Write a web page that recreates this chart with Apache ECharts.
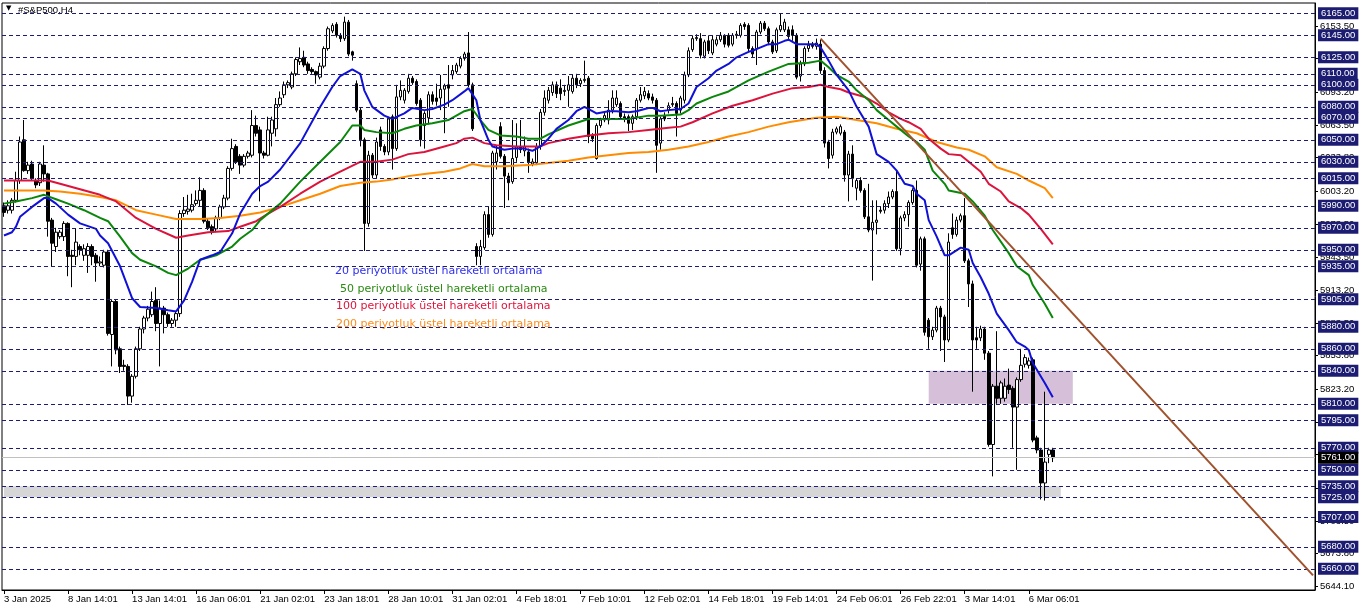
<!DOCTYPE html>
<html>
<head>
<meta charset="utf-8">
<script src="https://cdn.jsdelivr.net/npm/echarts@6/dist/echarts.min.js"></script>
<style>
html,body{margin:0;padding:0;background:#fff;}
#chart{width:1362px;height:611px;}
</style>
</head>
<body>
<div id="chart"></div>
<script>
// ---- data ----
const chartTitle = '#S&P500,H4';
const tickLabels = ['3 Jan 2025','8 Jan 14:01','13 Jan 14:01','16 Jan 06:01','21 Jan 02:01','23 Jan 18:01','28 Jan 10:01','31 Jan 02:01','4 Feb 18:01','7 Feb 10:01','12 Feb 02:01','14 Feb 18:01','19 Feb 14:01','24 Feb 06:01','26 Feb 22:01','3 Mar 14:01','6 Mar 06:01'];
const barsPerLabel = 16;
const slotCount = 328;
// [open, close, low, high]
const ohlc = [
[5990,5984,5980,5993],[5986,5990,5983,5995],[5986,5995,5983,5997],[5995,6013,5993,6021],[6013,6048,6010,6053],
[6050,6022,6021,6068],[6022,6027,6019,6030],[6028,6015,6013,6031],[6013,6009,6006,6015],[6011,6028,6008,6030],
[6027,6019,6012,6045],[6019,5976,5962,6020],[5977,5956,5935,5979],[5953,5966,5948,5970],[5962,5966,5960,5968],
[5962,5974,5958,5976],[5974,5944,5926,5975],[5945,5944,5916,5950],[5944,5957,5936,5969],[5953,5950,5945,5955],
[5945,5951,5940,5955],[5945,5953,5929,5956],[5953,5944,5936,5955],[5945,5938,5921,5947],[5938,5939,5935,5944],
[5936,5948,5934,5950],[5948,5874,5872,5950],[5873,5903,5844,5905],[5903,5859,5855,5905],[5860,5844,5838,5862],
[5845,5844,5840,5850],[5844,5817,5809,5846],[5817,5835,5811,5837],[5835,5860,5833,5862],[5860,5878,5858,5880],
[5878,5888,5874,5890],[5888,5896,5885,5899],[5891,5903,5889,5912],[5904,5883,5876,5916],[5883,5897,5844,5904],
[5897,5891,5874,5899],[5891,5883,5880,5893],[5883,5886,5880,5888],[5886,5892,5880,5894],[5892,5983,5889,5986],
[5983,5986,5980,5998],[5985,5987,5982,6000],[5986,5991,5984,6001],[5992,5995,5990,6004],[5995,6004,5989,6016],
[6004,5976,5974,6006],[5976,5970,5968,5978],[5971,5966,5964,5973],[5969,5979,5966,5981],[5979,5989,5977,5991],
[5989,5997,5987,6000],[5997,6024,5995,6026],[6024,6042,6022,6051],[6044,6030,6028,6046],[6035,6027,6019,6037],
[6027,6035,6025,6037],[6035,6038,6033,6040],[6036,6063,6034,6077],[6063,6056,6053,6072],[6059,6038,5994,6062],
[6038,6036,6033,6040],[6036,6059,6035,6071],[6056,6068,6044,6071],[6060,6082,6053,6088],[6082,6088,6080,6094],
[6091,6100,6088,6103],[6100,6102,6097,6104],[6098,6110,6096,6112],[6110,6123,6108,6125],[6121,6124,6118,6134],
[6125,6118,6116,6131],[6119,6113,6110,6121],[6114,6112,6110,6116],[6112,6109,6101,6113],[6107,6117,6105,6120],
[6117,6133,6115,6135],[6133,6151,6131,6153],[6149,6154,6147,6156],[6155,6145,6143,6157],[6145,6142,6139,6147],
[6142,6157,6140,6162],[6157,6128,6126,6159],[6130,6127,6122,6131],[6101,6077,6075,6104],[6077,6050,6044,6079],
[6050,5974,5949,6052],[5974,6036,5971,6040],[6036,6018,6015,6038],[6018,6048,6015,6052],[6059,6044,6040,6062],
[6044,6039,6036,6046],[6039,6069,6036,6071],[6071,6042,6023,6073],[6042,6089,6040,6100],[6089,6095,6086,6104],
[6086,6095,6083,6097],[6094,6106,6092,6110],[6106,6102,6100,6108],[6103,6083,6081,6105],[6086,6050,6044,6088],
[6063,6074,6042,6076],[6070,6091,6064,6094],[6091,6085,6082,6094],[6088,6085,6081,6101],[6088,6096,6077,6109],
[6096,6099,6056,6101],[6100,6097,6080,6118],[6109,6113,6105,6118],[6112,6118,6110,6120],[6117,6124,6115,6126],
[6124,6128,6122,6130],[6129,6100,6098,6148],[6100,6060,6058,6102],[5953,5944,5936,5956],[5944,5953,5936,5959],
[5952,5982,5950,5985],[5982,5964,5961,5989],[5964,6038,5962,6040],[6030,6038,6023,6045],[6062,6035,6033,6066],
[6035,6017,5988,6037],[6017,6011,5995,6020],[6012,6033,6010,6068],[6034,6044,6030,6065],[6044,6041,6038,6068],
[6040,6044,6035,6053],[6039,6030,6020,6042],[6028,6030,6026,6033],[6029,6044,6027,6047],[6044,6075,6041,6078],
[6075,6088,6072,6095],[6086,6095,6083,6098],[6093,6100,6090,6103],[6100,6092,6088,6103],[6097,6092,6086,6105],
[6094,6095,6090,6100],[6095,6100,6080,6108],[6094,6106,6092,6109],[6106,6100,6097,6110],[6101,6104,6098,6106],
[6104,6105,6102,6122],[6106,6053,6047,6108],[6054,6051,6048,6056],[6033,6063,6032,6065],[6063,6068,6061,6070],
[6068,6072,6066,6075],[6068,6077,6064,6086],[6077,6088,6074,6095],[6082,6088,6080,6095],[6083,6071,6068,6085],
[6071,6069,6066,6074],[6071,6065,6058,6073],[6065,6071,6059,6073],[6071,6086,6068,6088],[6086,6091,6084,6098],
[6090,6094,6087,6098],[6092,6088,6086,6095],[6089,6086,6083,6092],[6086,6045,6020,6088],[6047,6069,6041,6071],
[6072,6069,6067,6075],[6077,6081,6074,6084],[6082,6083,6080,6089],[6083,6074,6053,6085],[6077,6088,6074,6090],
[6086,6109,6083,6112],[6109,6131,6107,6134],[6132,6142,6130,6145],[6142,6143,6140,6146],[6142,6127,6124,6147],
[6126,6139,6124,6141],[6140,6131,6128,6145],[6129,6141,6127,6145],[6137,6141,6135,6144],[6141,6145,6139,6148],
[6145,6137,6134,6146],[6145,6136,6134,6147],[6137,6145,6135,6147],[6145,6146,6142,6149],[6145,6154,6143,6156],
[6155,6153,6150,6157],[6154,6133,6130,6156],[6133,6128,6125,6135],[6133,6148,6118,6150],[6148,6156,6146,6158],
[6156,6151,6149,6158],[6151,6139,6136,6153],[6139,6130,6128,6141],[6131,6150,6129,6152],[6150,6154,6148,6165],
[6150,6157,6148,6160],[6150,6144,6141,6153],[6150,6145,6140,6154],[6145,6107,6105,6147],[6108,6119,6103,6122],
[6119,6133,6117,6135],[6133,6136,6130,6140],[6136,6135,6133,6139],[6135,6138,6132,6142],[6137,6113,6110,6141],
[6113,6047,6043,6116],[6048,6033,6024,6050],[6036,6057,6033,6060],[6057,6060,6055,6062],[6056,6062,6054,6064],
[6057,6018,6012,6059],[6018,6037,5994,6040],[6037,6015,6007,6045],[6006,6013,5995,6015],[6013,6004,6002,6016],
[6004,5980,5978,6006],[5980,5968,5966,6010],[5968,5975,5922,5995],[5975,5977,5964,5995],[5986,5985,5983,5989],
[5986,5992,5983,5995],[5992,5998,5988,6003],[5998,6003,5996,6005],[6003,5951,5949,6022],[5951,5979,5945,5981],
[5979,5982,5976,5985],[5982,5993,5971,5995],[5993,6004,5991,6006],[6004,5936,5934,6013],[5937,5960,5931,5962],
[5960,5875,5872,5962],[5886,5871,5860,5888],[5871,5877,5868,5880],[5877,5897,5875,5899],[5897,5889,5858,5899],
[5889,5868,5848,5891],[5868,5957,5866,5965],[5970,5964,5960,5983],[5964,5977,5962,5980],[5977,5981,5975,5983],
[5981,5940,5938,5997],[5940,5919,5898,5942],[5919,5868,5821,5922],[5870,5868,5860,5880],[5870,5878,5867,5881],
[5878,5856,5850,5880],[5856,5773,5771,5858],[5773,5826,5744,5828],[5826,5815,5810,5876],[5815,5829,5810,5831],
[5815,5826,5812,5833],[5827,5823,5819,5842],[5824,5807,5770,5826],[5807,5832,5750,5834],[5832,5845,5830,5860],
[5846,5852,5843,5855],[5845,5849,5842,5852],[5850,5777,5775,5852],[5779,5768,5765,5781],[5768,5738,5723,5770],
[5738,5757,5722,5821],[5764,5768,5756,5770],[5768,5761,5757,5770]
];
// moving averages: [bar index, value]
const ema20 = [[0,5963],[2,5966],[3,5971],[4,5980],[7,5989],[10,5997],[11,5997],[13,5992],[16,5982],[19,5974],[23,5969],[24,5963],[26,5956],[29,5935],[32,5906],[34,5898],[38,5897],[41,5895],[43,5894],[45,5904],[47,5921],[49,5941],[52,5945],[54,5948],[57,5965],[59,5983],[62,6001],[64,6008],[66,6012],[69,6023],[74,6047],[79,6080],[82,6098],[84,6108],[87,6114],[89,6110],[90,6095],[92,6080],[95,6072],[97,6069],[100,6074],[102,6079],[105,6077],[107,6078],[110,6082],[112,6086],[115,6094],[116,6097],[118,6086],[119,6068],[121,6050],[122,6044],[125,6041],[127,6042],[130,6042],[132,6040],[134,6044],[136,6051],[138,6060],[141,6068],[143,6076],[145,6080],[147,6076],[148,6074],[151,6076],[153,6076],[156,6075],[158,6076],[161,6079],[162,6079],[164,6076],[166,6077],[169,6078],[171,6083],[173,6098],[176,6106],[178,6113],[181,6119],[183,6125],[186,6130],[187,6131],[189,6134],[191,6137],[193,6137],[195,6140],[196,6141],[198,6137],[201,6137],[203,6137],[204,6134],[206,6122],[208,6109],[211,6095],[213,6080],[216,6062],[218,6037],[221,6030],[223,6022],[225,6010],[227,6008],[228,6001],[230,5995],[231,5977],[233,5962],[235,5945],[236,5945],[239,5952],[241,5950],[242,5938],[244,5925],[246,5910],[248,5892],[251,5877],[253,5866],[255,5862],[256,5859],[257,5847],[260,5829],[262,5816]];
const ema50 = [[0,5992],[3,5994],[7,5997],[10,6000],[13,5996],[16,5992],[20,5986],[24,5979],[26,5976],[29,5962],[32,5947],[34,5941],[38,5935],[41,5929],[43,5927],[46,5933],[49,5941],[53,5945],[57,5953],[59,5960],[62,5968],[64,5977],[69,5992],[74,6012],[79,6030],[84,6048],[87,6063],[89,6063],[90,6059],[93,6057],[97,6056],[100,6060],[103,6063],[107,6065],[111,6068],[115,6076],[117,6078],[119,6068],[121,6059],[124,6054],[128,6053],[131,6051],[134,6051],[136,6055],[141,6063],[146,6069],[151,6069],[156,6069],[161,6072],[164,6072],[169,6073],[171,6077],[173,6083],[177,6089],[181,6094],[186,6104],[191,6112],[196,6119],[201,6120],[204,6122],[206,6116],[208,6109],[211,6103],[213,6095],[216,6086],[218,6077],[221,6068],[223,6062],[226,6053],[228,6048],[230,6041],[232,6022],[235,6010],[236,6004],[240,6001],[242,5994],[245,5981],[247,5968],[251,5947],[253,5935],[256,5927],[257,5918],[260,5901],[262,5888]];
const ema100 = [[0,6013],[4,6013],[9,6013],[11,6013],[14,6010],[19,6005],[24,6000],[28,5994],[33,5979],[38,5969],[43,5961],[46,5963],[51,5966],[56,5967],[59,5971],[63,5976],[66,5983],[69,5989],[74,6001],[79,6012],[84,6021],[89,6030],[93,6030],[97,6032],[101,6037],[105,6039],[110,6044],[113,6047],[115,6051],[117,6052],[120,6047],[123,6045],[128,6044],[131,6044],[134,6044],[136,6047],[141,6051],[146,6054],[151,6056],[156,6057],[161,6059],[166,6061],[169,6062],[172,6066],[177,6074],[182,6081],[187,6086],[192,6092],[197,6097],[201,6098],[204,6100],[206,6098],[209,6096],[211,6093],[215,6089],[218,6083],[221,6075],[224,6069],[226,6066],[229,6060],[231,6051],[234,6042],[236,6037],[239,6036],[241,6030],[244,6021],[246,6010],[249,6003],[251,5994],[254,5988],[256,5982],[259,5969],[262,5955]];
const ema200 = [[0,6004],[4,6004],[10,6004],[14,6003],[19,6001],[24,5998],[28,5995],[33,5986],[38,5982],[43,5978],[49,5978],[54,5979],[59,5981],[64,5984],[69,5989],[74,5995],[79,6001],[84,6008],[89,6011],[93,6012],[97,6014],[101,6017],[105,6019],[110,6021],[114,6024],[117,6028],[120,6026],[125,6026],[131,6027],[136,6029],[141,6031],[146,6034],[151,6036],[156,6038],[161,6039],[166,6041],[171,6044],[176,6048],[181,6053],[186,6057],[191,6062],[196,6066],[201,6069],[203,6070],[208,6071],[213,6068],[218,6065],[223,6060],[228,6056],[233,6048],[238,6043],[241,6041],[245,6035],[248,6025],[253,6019],[256,6013],[260,6006],[262,5997]];
const trendLine = [[204,6142],[327,5654]];
const levels = [6165,6145,6125,6110,6100,6080,6070,6050,6030,6015,5990,5970,5950,5935,5905,5880,5860,5840,5810,5795,5770,5750,5735,5725,5707,5680,5660];
const priceTicks = [6153.5,6123.8,6093.2,6063.5,6033.8,6003.2,5973.5,5943.5,5913.2,5883.5,5853.8,5823.2,5793.5,5763.8,5733.5,5703.5,5673.8,5644.1];
const bidPrice = 5761.00;
const purpleZone = {from:231, to:267, top:5840, bottom:5810};
const grayZone = {from:0, to:264, top:5735, bottom:5725};
const legendTexts = ['20 periyotluk üstel hareketli ortalama','50 periyotluk üstel hareketli ortalama','100 periyotluk üstel hareketli ortalama','200 periyotluk üstel hareketli ortalama'];
const yMin = 5640.7, yMax = 6174.4;

// ---- chart ----
const categories = Array.from({length: slotCount}, (_, i) => String(i));
const NAVY = '#1c1c72';
const AXFONT = 'Liberation Sans';
const chart = echarts.init(document.getElementById('chart'));

const levelLines = levels.map(v => ({
  yAxis: v,
  lineStyle: {color: NAVY, type: [4,3], width: 1},
  label: {backgroundColor: NAVY, color: '#fff'}
}));
levelLines.push({
  yAxis: bidPrice,
  lineStyle: {color: '#c0c0c0', type: 'solid', width: 1},
  label: {backgroundColor: '#000', color: '#fff'}
});

const showTick = idx => idx % barsPerLabel === 0 && idx / barsPerLabel < tickLabels.length;

chart.setOption({
  animation: false,
  backgroundColor: '#fff',
  grid: {left: 2, right: 47, top: 3, bottom: 21, show: true, borderColor: '#000', borderWidth: 1, backgroundColor: 'transparent'},
  xAxis: {
    type: 'category', data: categories, boundaryGap: true,
    axisLine: {show: true, lineStyle: {color: '#000', width: 1}},
    axisTick: {show: true, alignWithLabel: true, interval: (i) => showTick(i), length: 4, lineStyle: {color: '#000'}},
    axisLabel: {show: true, interval: (i) => showTick(i), align: 'left', margin: 4, color: '#000',
      fontFamily: AXFONT, fontSize: 9.5,
      formatter: (v, i) => tickLabels[Math.round(i / barsPerLabel)] || ''},
    splitLine: {show: false}
  },
  yAxis: {
    type: 'value', position: 'right', min: yMin, max: yMax, scale: true,
    axisLine: {show: true, lineStyle: {color: '#000'}},
    axisTick: {show: true, length: 3, customValues: priceTicks, lineStyle: {color: '#000'}},
    axisLabel: {show: true, customValues: priceTicks, margin: 5, color: '#000', fontFamily: AXFONT, fontSize: 9.5,
      formatter: v => Number(v).toFixed(2)},
    splitLine: {show: false}
  },
  graphic: [
    {type: 'text', left: 6, top: 5, style: {text: '▼', fill: '#000', font: '7px "DejaVu Sans"'}},
    {type: 'text', left: 18, top: 5, style: {text: chartTitle, fill: '#000', font: '9.5px "Liberation Sans"'}},
    {type: 'text', left: 335, top: 266, style: {text: legendTexts[0], fill: '#2f2ff0', font: '11px "DejaVu Sans"'}},
    {type: 'text', left: 340, top: 284, style: {text: legendTexts[1], fill: '#2a8a12', font: '11px "DejaVu Sans"'}},
    {type: 'text', left: 336, top: 301, style: {text: legendTexts[2], fill: '#e0143c', font: '11px "DejaVu Sans"'}},
    {type: 'text', left: 336, top: 319, style: {text: legendTexts[3], fill: '#ff8c1a', font: '11px "DejaVu Sans"'}}
  ],
  series: [
    {
      name: 'levels', type: 'line', data: [], z: 1, silent: true,
      markArea: {
        silent: true,
        data: [
          [{xAxis: purpleZone.from, yAxis: purpleZone.top, itemStyle: {color: '#d6bfd9'}}, {xAxis: purpleZone.to, yAxis: purpleZone.bottom}],
          [{xAxis: grayZone.from, yAxis: grayZone.top, itemStyle: {color: '#d6d6d6'}}, {xAxis: grayZone.to, yAxis: grayZone.bottom}]
        ]
      },
      markLine: {
        silent: true, symbol: ['none','none'],
        label: {show: true, position: 'end', distance: 3, fontFamily: AXFONT, fontSize: 9.5, lineHeight: 12,
          padding: [0, 3, 0, 3], formatter: p => Number(p.value).toFixed(2)},
        emphasis: {disabled: true},
        data: levelLines
      }
    },
    {
      name: 'price', type: 'candlestick', data: ohlc, z: 3, barWidth: 3,
      itemStyle: {color: '#ffffff', color0: '#000000', borderColor: '#000000', borderColor0: '#000000', borderWidth: 1}
    },
    {name: 'ema200', type: 'line', data: ema200, z: 4, symbol: 'none', lineStyle: {color: '#ff8c00', width: 2}},
    {name: 'ema100', type: 'line', data: ema100, z: 4, symbol: 'none', lineStyle: {color: '#dc143c', width: 2}},
    {name: 'ema50', type: 'line', data: ema50, z: 4, symbol: 'none', lineStyle: {color: '#0a870a', width: 2}},
    {name: 'ema20', type: 'line', data: ema20, z: 4, symbol: 'none', lineStyle: {color: '#1010d8', width: 2}},
    {name: 'trend', type: 'line', data: trendLine, z: 5, symbol: 'none', lineStyle: {color: '#a0522d', width: 2}}
  ]
});
</script>
</body>
</html>
